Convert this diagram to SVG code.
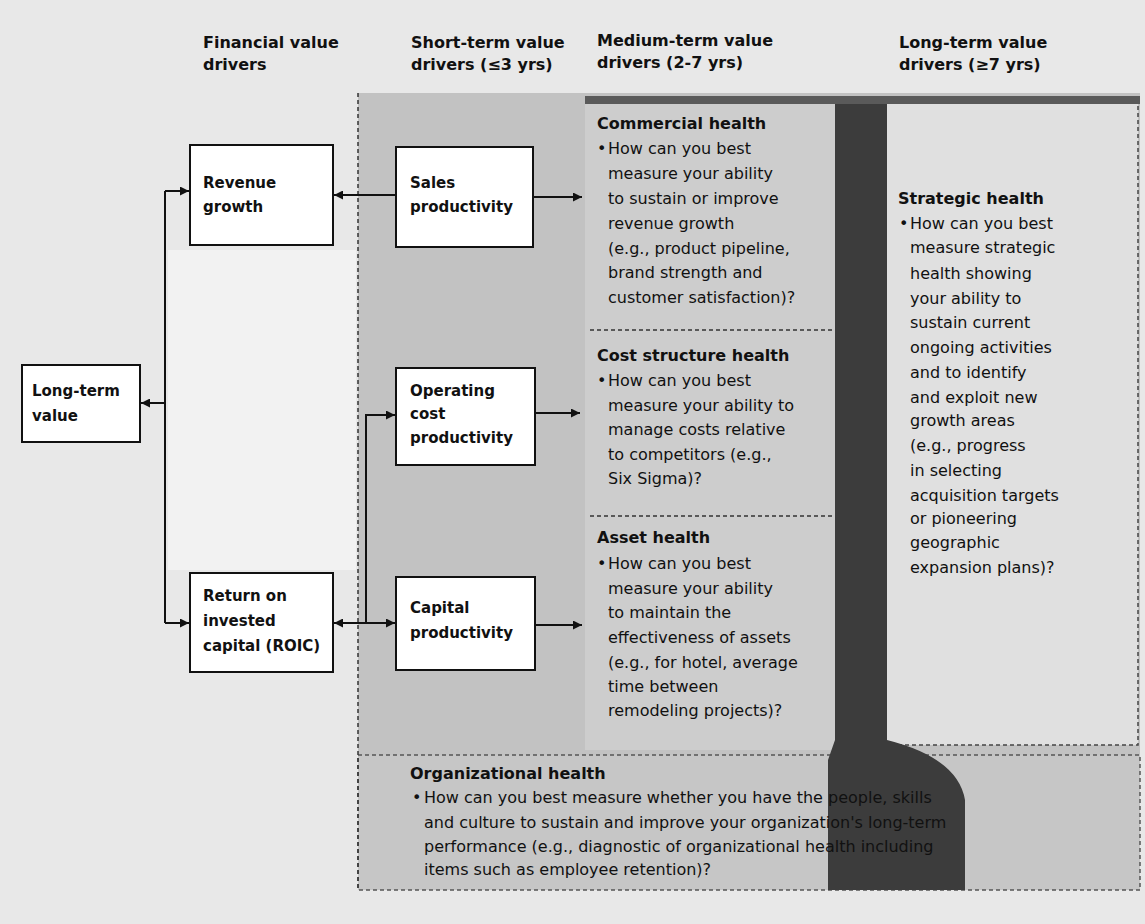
<svg xmlns="http://www.w3.org/2000/svg" width="1145" height="924" viewBox="0 0 1145 924">
<style>
text{font-family:"DejaVu Sans","Liberation Sans",sans-serif;fill:#111}
.hd{font-size:16px;font-weight:bold}
.nd{font-size:15px;font-weight:bold}
.ti{font-size:16px;font-weight:bold}
.bd{font-size:16px}
.box{fill:#fff;stroke:#111;stroke-width:2}
.cn{fill:none;stroke:#111;stroke-width:2}
.sep{fill:none;stroke:#333;stroke-width:1.5;stroke-dasharray:4 3}
</style>
<defs>
<marker id="ah" viewBox="0 0 10 10" refX="10" refY="5" markerWidth="9" markerHeight="9" orient="auto" markerUnits="userSpaceOnUse"><path d="M0,0 L10,5 L0,10 z" fill="#111"/></marker>
</defs>
<g id="background">
<rect width="1145" height="924" fill="#e8e8e8"/>
<rect x="168" y="250" width="188" height="320" fill="#f2f2f2"/>
<rect x="358" y="93" width="782" height="797" fill="#c2c2c2"/>
<rect x="585" y="100" width="250" height="650" fill="#cdcdcd"/>
<rect x="885" y="100" width="253" height="645" fill="#e0e0e0" stroke="#444" stroke-width="1.5" stroke-dasharray="4 3"/>
<rect x="358" y="755" width="782" height="135" fill="#c6c6c6" stroke="#555" stroke-width="1.5" stroke-dasharray="4 3"/>
<path d="M835,96 H887 V740 Q958,758 965,800 V890 H828 V760 L835,740 Z" fill="#3c3c3c"/>
<rect x="585" y="96" width="555" height="8" fill="#5a5a5a"/>
<line class="sep" x1="590" y1="330" x2="835" y2="330"/>
<line class="sep" x1="590" y1="516" x2="835" y2="516"/>
<line class="sep" x1="358" y1="93" x2="358" y2="890"/>
</g>
<g id="headers">
<text class="hd" x="203" y="48">Financial value</text>
<text class="hd" x="203" y="70">drivers</text>
<text class="hd" x="411" y="48">Short-term value</text>
<text class="hd" x="411" y="70">drivers (≤3 yrs)</text>
<text class="hd" x="597" y="46">Medium-term value</text>
<text class="hd" x="597" y="68">drivers (2-7 yrs)</text>
<text class="hd" x="899" y="48">Long-term value</text>
<text class="hd" x="899" y="70">drivers (≥7 yrs)</text>
</g>
<g id="connectors">
<path class="cn" d="M165,191 V623"/>
<path class="cn" d="M165,191 H189" marker-end="url(#ah)"/>
<path class="cn" d="M165,623 H189" marker-end="url(#ah)"/>
<path class="cn" d="M165,403 H141" marker-end="url(#ah)"/>
<path class="cn" d="M396,195 H334" marker-end="url(#ah)"/>
<path class="cn" d="M366,623 H334" marker-end="url(#ah)"/>
<path class="cn" d="M366,623 H395" marker-end="url(#ah)"/>
<path class="cn" d="M366,623 V415 H395" marker-end="url(#ah)"/>
<path class="cn" d="M533,197 H582" marker-end="url(#ah)"/>
<path class="cn" d="M535,413 H580" marker-end="url(#ah)"/>
<path class="cn" d="M535,625 H582" marker-end="url(#ah)"/>
</g>
<g id="node-long-term-value">
<rect class="box" x="22" y="365" width="118" height="77"/>
<text class="nd" x="32" y="396">Long-term</text>
<text class="nd" x="32" y="421">value</text>
</g>
<g id="node-revenue-growth">
<rect class="box" x="190" y="145" width="143" height="100"/>
<text class="nd" x="203" y="188">Revenue</text>
<text class="nd" x="203" y="212">growth</text>
</g>
<g id="node-roic">
<rect class="box" x="190" y="573" width="143" height="99"/>
<text class="nd" x="203" y="601">Return on</text>
<text class="nd" x="203" y="626">invested</text>
<text class="nd" x="203" y="651">capital (ROIC)</text>
</g>
<g id="node-sales-productivity">
<rect class="box" x="396" y="147" width="137" height="100"/>
<text class="nd" x="410" y="188">Sales</text>
<text class="nd" x="410" y="212">productivity</text>
</g>
<g id="node-operating-cost-productivity">
<rect class="box" x="396" y="368" width="139" height="97"/>
<text class="nd" x="410" y="396">Operating</text>
<text class="nd" x="410" y="419">cost</text>
<text class="nd" x="410" y="443">productivity</text>
</g>
<g id="node-capital-productivity">
<rect class="box" x="396" y="577" width="139" height="93"/>
<text class="nd" x="410" y="613">Capital</text>
<text class="nd" x="410" y="638">productivity</text>
</g>
<g id="node-commercial-health">
<text class="ti" x="597" y="129">Commercial health</text>
<text class="bd" x="597" y="154">•</text>
<text class="bd" x="608" y="154">How can you best</text>
<text class="bd" x="608" y="179">measure your ability</text>
<text class="bd" x="608" y="204">to sustain or improve</text>
<text class="bd" x="608" y="229">revenue growth</text>
<text class="bd" x="608" y="254">(e.g., product pipeline,</text>
<text class="bd" x="608" y="278">brand strength and</text>
<text class="bd" x="608" y="303">customer satisfaction)?</text>
</g>
<g id="node-cost-structure-health">
<text class="ti" x="597" y="361">Cost structure health</text>
<text class="bd" x="597" y="386">•</text>
<text class="bd" x="608" y="386">How can you best</text>
<text class="bd" x="608" y="411">measure your ability to</text>
<text class="bd" x="608" y="435">manage costs relative</text>
<text class="bd" x="608" y="460">to competitors (e.g.,</text>
<text class="bd" x="608" y="484">Six Sigma)?</text>
</g>
<g id="node-asset-health">
<text class="ti" x="597" y="543">Asset health</text>
<text class="bd" x="597" y="569">•</text>
<text class="bd" x="608" y="569">How can you best</text>
<text class="bd" x="608" y="594">measure your ability</text>
<text class="bd" x="608" y="618">to maintain the</text>
<text class="bd" x="608" y="643">effectiveness of assets</text>
<text class="bd" x="608" y="668">(e.g., for hotel, average</text>
<text class="bd" x="608" y="692">time between</text>
<text class="bd" x="608" y="716">remodeling projects)?</text>
</g>
<g id="node-strategic-health">
<text class="ti" x="898" y="204">Strategic health</text>
<text class="bd" x="899" y="229">•</text>
<text class="bd" x="910" y="229">How can you best</text>
<text class="bd" x="910" y="253">measure strategic</text>
<text class="bd" x="910" y="279">health showing</text>
<text class="bd" x="910" y="304">your ability to</text>
<text class="bd" x="910" y="328">sustain current</text>
<text class="bd" x="910" y="353">ongoing activities</text>
<text class="bd" x="910" y="378">and to identify</text>
<text class="bd" x="910" y="403">and exploit new</text>
<text class="bd" x="910" y="426">growth areas</text>
<text class="bd" x="910" y="451">(e.g., progress</text>
<text class="bd" x="910" y="476">in selecting</text>
<text class="bd" x="910" y="501">acquisition targets</text>
<text class="bd" x="910" y="524">or pioneering</text>
<text class="bd" x="910" y="548">geographic</text>
<text class="bd" x="910" y="573">expansion plans)?</text>
</g>
<g id="node-organizational-health">
<text class="ti" x="410" y="779">Organizational health</text>
<text class="bd" x="412" y="803">•</text>
<text class="bd" x="424" y="803">How can you best measure whether you have the people, skills</text>
<text class="bd" x="424" y="828">and culture to sustain and improve your organization's long-term</text>
<text class="bd" x="424" y="852">performance (e.g., diagnostic of organizational health including</text>
<text class="bd" x="424" y="875">items such as employee retention)?</text>
</g>
</svg>
